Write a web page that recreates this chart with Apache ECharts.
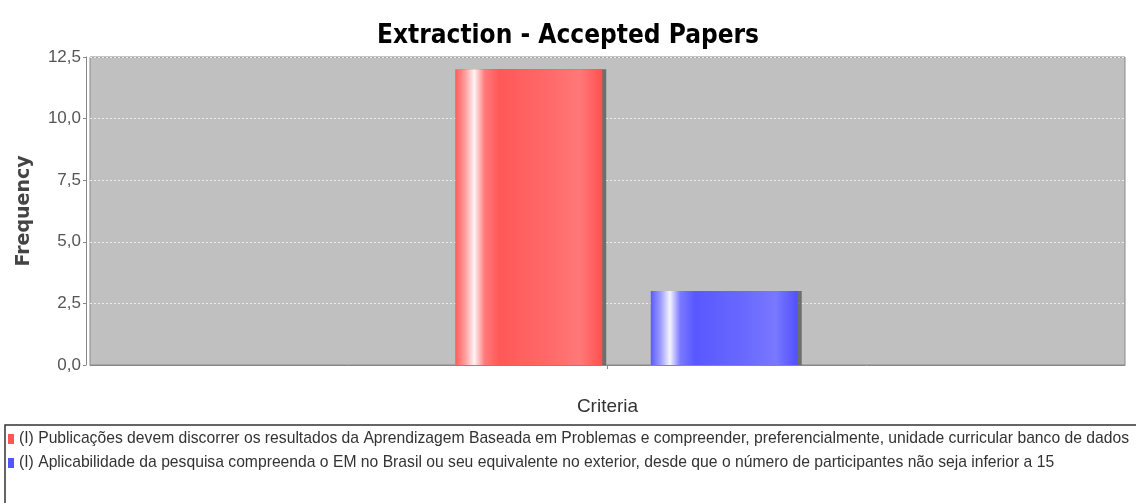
<!DOCTYPE html>
<html>
<head>
<meta charset="utf-8">
<script src="https://cdn.jsdelivr.net/npm/echarts@6/dist/echarts.min.js"></script>
<style>html,body{margin:0;padding:0;background:#fff;}#c{width:1136px;height:503px;}</style>
</head>
<body>
<div id="c"></div>
<script>
const categories = [''];
const seriesNames = [
  '(I) Publicações devem discorrer os resultados da Aprendizagem Baseada em Problemas e compreender, preferencialmente, unidade curricular banco de dados',
  '(I) Aplicabilidade da pesquisa compreenda o EM no Brasil ou seu equivalente no exterior, desde que o número de participantes não seja inferior a 15'
];
const seriesValues = [[12], [3]];
const yMin = 0, yMax = 12.5, yStep = 2.5;
const baseColors = ['#ff5555', '#5555ff'];
const gradients = [
  ['#ff5a5a', '#ffa0a0', '#fff4f4', '#ff7a7a', '#ff5858', '#ff6a6a', '#ff7878', '#ff5050'],
  ['#5a5aff', '#a0a0ff', '#f4f4ff', '#7a7aff', '#5858ff', '#6a6aff', '#7878ff', '#5050ff']
];
const stopsPos = [0, 0.07, 0.13, 0.2, 0.3, 0.65, 0.85, 1];

const chart = echarts.init(document.getElementById('c'), null, {renderer: 'canvas'});
const series = seriesNames.map((n, i) => ({
  name: n,
  type: 'bar',
  xAxisIndex: 1,
  yAxisIndex: 1,
  data: seriesValues[i],
  barWidth: 147,
  barGap: '33%',
  itemStyle: {
    color: new echarts.graphic.LinearGradient(0, 0, 1, 0,
      stopsPos.map((p, k) => ({offset: p, color: gradients[i][k]}))),
    shadowColor: 'rgba(90,90,90,0.8)',
    shadowOffsetX: 4,
    shadowOffsetY: 0,
    shadowBlur: 0
  }
}));
chart.setOption({
  animation: false,
  title: {
    text: 'Extraction - Accepted Papers',
    left: 'center',
    top: 18,
    textStyle: {fontFamily: '"Liberation Sans Narrow", "DejaVu Sans Condensed", sans-serif', fontWeight: 'bold', fontSize: 26, color: '#000'}
  },
  grid: [
    {left: 90, right: 11, top: 57, bottom: 138, show: true, backgroundColor: '#c0c0c0', borderColor: '#8a8a8a', borderWidth: 1},
    {left: 128, right: 11, top: 57, bottom: 138, show: false}
  ],
  xAxis: [{
    type: 'category',
    gridIndex: 0,
    data: categories,
    offset: 4,
    name: 'Criteria',
    nameLocation: 'middle',
    nameGap: 28,
    nameTextStyle: {fontFamily: '"Liberation Sans", sans-serif', fontSize: 19, color: '#333'},
    axisLine: {lineStyle: {color: '#888', width: 1}},
    axisTick: {show: true, alignWithLabel: true, length: 4, lineStyle: {color: '#888'}},
    axisLabel: {show: false}
  }, {
    type: 'category',
    gridIndex: 1,
    data: categories,
    show: false
  }],
  yAxis: [{
    type: 'value',
    gridIndex: 0,
    min: yMin, max: yMax, interval: yStep,
    offset: 4,
    name: 'Frequency',
    nameLocation: 'middle',
    nameGap: 52,
    nameRotate: 90,
    nameTextStyle: {fontFamily: '"DejaVu Sans", sans-serif', fontWeight: 'bold', fontSize: 19, color: '#444'},
    axisLine: {show: true, lineStyle: {color: '#888', width: 1}},
    axisTick: {show: true, length: 3, lineStyle: {color: '#888'}},
    axisLabel: {
      fontFamily: '"Liberation Sans", sans-serif', fontSize: 17, color: '#555', margin: 5,
      formatter: v => v.toFixed(1).replace('.', ',')
    },
    splitLine: {show: true, lineStyle: {color: '#ececec', type: [2, 2], width: 1}}
  }, {
    type: 'value',
    gridIndex: 1,
    min: yMin, max: yMax, interval: yStep,
    show: false,
    splitLine: {show: false}
  }],
  legend: {
    orient: 'vertical',
    left: 8,
    top: 431,
    padding: 0,
    itemWidth: 6,
    itemHeight: 10,
    itemGap: 8,
    icon: 'rect',
    data: seriesNames.map((n, i) => ({name: n, itemStyle: {color: baseColors[i]}})),
    textStyle: {fontFamily: '"Liberation Sans", sans-serif', fontSize: 15.7, color: '#333'}
  },
  graphic: [{
    type: 'rect',
    shape: {x: 5, y: 425, width: 1140, height: 100},
    style: {fill: 'none', stroke: '#333', lineWidth: 1.5},
    silent: true
  }],
  series: series
});
</script>
</body>
</html>
